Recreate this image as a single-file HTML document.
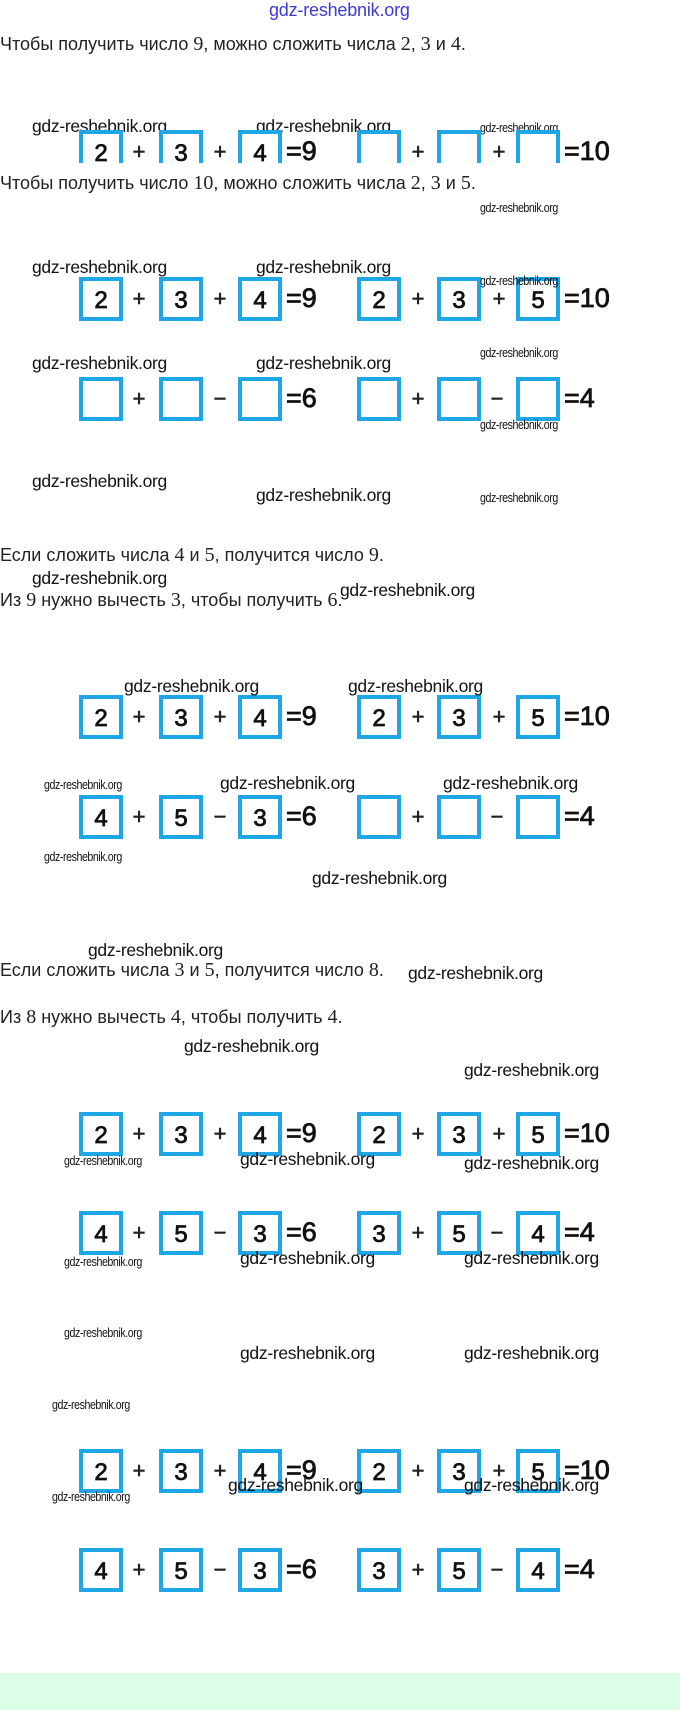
<!DOCTYPE html>
<html><head><meta charset="utf-8">
<style>
html,body{margin:0;padding:0;}
body{width:680px;height:1710px;position:relative;background:#fff;overflow:hidden;font-family:"Liberation Sans",sans-serif;}
.a{position:absolute;white-space:nowrap;}
.wm{position:absolute;white-space:nowrap;font-family:"Liberation Sans",sans-serif;font-size:17.5px;line-height:17px;color:#111;letter-spacing:-0.3px;}
.ws{position:absolute;white-space:nowrap;font-family:"Liberation Sans",sans-serif;font-size:12.5px;line-height:12px;color:#111;letter-spacing:-0.5px;transform:scaleX(0.85);transform-origin:left;}
.t{position:absolute;left:0;white-space:nowrap;font-family:"Liberation Sans",sans-serif;font-size:18px;line-height:20px;color:#222;letter-spacing:0;}
.t .n{font-family:"Liberation Serif",serif;font-size:20px;}
.row{position:absolute;left:0;width:680px;height:44px;}
.b{position:absolute;top:0;width:44px;height:44px;box-sizing:border-box;border:4.5px solid #1fa6e6;background:#fff;text-align:center;font-size:24px;line-height:40px;color:#111;-webkit-text-stroke:0.8px #111;}
.op{position:absolute;top:0;line-height:44px;font-size:22px;color:#222;width:20px;text-align:center;-webkit-text-stroke:0.6px #222;}
.eq{position:absolute;top:0;line-height:42px;font-size:27px;color:#111;-webkit-text-stroke:0.8px #111;letter-spacing:0;}
</style></head><body>

<div class="a" style="left:269px;top:1px;font-size:18px;line-height:19px;color:#3b3bd6;letter-spacing:-0.2px;">gdz-reshebnik.org</div>

<div class="t" style="top:34px;">Чтобы получить число <span class="n">9</span>, можно сложить числа <span class="n">2</span>, <span class="n">3</span> и <span class="n">4</span>.</div>

<div class="wm" style="left:32px;top:118px;">gdz-reshebnik.org</div>
<div class="wm" style="left:256px;top:118px;">gdz-reshebnik.org</div>
<div class="ws" style="left:480px;top:122px;">gdz-reshebnik.org</div>

<div style="position:absolute;left:0;top:0;width:680px;height:163px;overflow:hidden;">
<div class="row" style="top:130px;">
<div class="b" style="left:79px">2</div><div class="op" style="left:129px">+</div>
<div class="b" style="left:159px">3</div><div class="op" style="left:210px">+</div>
<div class="b" style="left:238px">4</div><div class="eq" style="left:286px">=9</div>
<div class="b" style="left:357px"></div><div class="op" style="left:408px">+</div>
<div class="b" style="left:437px"></div><div class="op" style="left:489px">+</div>
<div class="b" style="left:516px"></div><div class="eq" style="left:564px">=10</div>
</div></div>

<div class="t" style="top:173px;">Чтобы получить число <span class="n">10</span>, можно сложить числа <span class="n">2</span>, <span class="n">3</span> и <span class="n">5</span>.</div>
<div class="ws" style="left:480px;top:202px;">gdz-reshebnik.org</div>

<div class="wm" style="left:32px;top:259px;">gdz-reshebnik.org</div>
<div class="wm" style="left:256px;top:259px;">gdz-reshebnik.org</div>
<div class="row" style="top:277px;">
<div class="b" style="left:79px">2</div><div class="op" style="left:129px">+</div>
<div class="b" style="left:159px">3</div><div class="op" style="left:210px">+</div>
<div class="b" style="left:238px">4</div><div class="eq" style="left:286px">=9</div>
<div class="b" style="left:357px">2</div><div class="op" style="left:408px">+</div>
<div class="b" style="left:437px">3</div><div class="op" style="left:489px">+</div>
<div class="b" style="left:516px">5</div><div class="eq" style="left:564px">=10</div>
</div>
<div class="ws" style="left:480px;top:275px;">gdz-reshebnik.org</div>

<div class="wm" style="left:32px;top:355px;">gdz-reshebnik.org</div>
<div class="wm" style="left:256px;top:355px;">gdz-reshebnik.org</div>
<div class="ws" style="left:480px;top:347px;">gdz-reshebnik.org</div>
<div class="row" style="top:377px;">
<div class="b" style="left:79px"></div><div class="op" style="left:129px">+</div>
<div class="b" style="left:159px"></div><div class="op" style="left:210px">−</div>
<div class="b" style="left:238px"></div><div class="eq" style="left:286px">=6</div>
<div class="b" style="left:357px"></div><div class="op" style="left:408px">+</div>
<div class="b" style="left:437px"></div><div class="op" style="left:487px">−</div>
<div class="b" style="left:516px"></div><div class="eq" style="left:564px">=4</div>
</div>
<div class="ws" style="left:480px;top:419px;">gdz-reshebnik.org</div>

<div class="wm" style="left:32px;top:473px;">gdz-reshebnik.org</div>
<div class="wm" style="left:256px;top:487px;">gdz-reshebnik.org</div>
<div class="ws" style="left:480px;top:492px;">gdz-reshebnik.org</div>

<div class="t" style="top:545px;">Если сложить числа <span class="n">4</span> и <span class="n">5</span>, получится число <span class="n">9</span>.</div>
<div class="wm" style="left:32px;top:570px;">gdz-reshebnik.org</div>
<div class="t" style="top:590px;">Из <span class="n">9</span> нужно вычесть <span class="n">3</span>, чтобы получить <span class="n">6</span>.</div>
<div class="wm" style="left:340px;top:582px;">gdz-reshebnik.org</div>

<div class="row" style="top:695px;">
<div class="b" style="left:79px">2</div><div class="op" style="left:129px">+</div>
<div class="b" style="left:159px">3</div><div class="op" style="left:210px">+</div>
<div class="b" style="left:238px">4</div><div class="eq" style="left:286px">=9</div>
<div class="b" style="left:357px">2</div><div class="op" style="left:408px">+</div>
<div class="b" style="left:437px">3</div><div class="op" style="left:489px">+</div>
<div class="b" style="left:516px">5</div><div class="eq" style="left:564px">=10</div>
</div>
<div class="wm" style="left:124px;top:678px;">gdz-reshebnik.org</div>
<div class="wm" style="left:348px;top:678px;">gdz-reshebnik.org</div>

<div class="ws" style="left:44px;top:779px;">gdz-reshebnik.org</div>
<div class="row" style="top:795px;">
<div class="b" style="left:79px">4</div><div class="op" style="left:129px">+</div>
<div class="b" style="left:159px">5</div><div class="op" style="left:210px">−</div>
<div class="b" style="left:238px">3</div><div class="eq" style="left:286px">=6</div>
<div class="b" style="left:357px"></div><div class="op" style="left:408px">+</div>
<div class="b" style="left:437px"></div><div class="op" style="left:487px">−</div>
<div class="b" style="left:516px"></div><div class="eq" style="left:564px">=4</div>
</div>
<div class="wm" style="left:220px;top:775px;">gdz-reshebnik.org</div>
<div class="wm" style="left:443px;top:775px;">gdz-reshebnik.org</div>
<div class="ws" style="left:44px;top:851px;">gdz-reshebnik.org</div>
<div class="wm" style="left:312px;top:870px;">gdz-reshebnik.org</div>

<div class="wm" style="left:88px;top:942px;">gdz-reshebnik.org</div>
<div class="t" style="top:960px;">Если сложить числа <span class="n">3</span> и <span class="n">5</span>, получится число <span class="n">8</span>.</div>
<div class="wm" style="left:408px;top:965px;">gdz-reshebnik.org</div>
<div class="t" style="top:1007px;">Из <span class="n">8</span> нужно вычесть <span class="n">4</span>, чтобы получить <span class="n">4</span>.</div>
<div class="wm" style="left:184px;top:1038px;">gdz-reshebnik.org</div>
<div class="wm" style="left:464px;top:1062px;">gdz-reshebnik.org</div>

<div class="row" style="top:1112px;">
<div class="b" style="left:79px">2</div><div class="op" style="left:129px">+</div>
<div class="b" style="left:159px">3</div><div class="op" style="left:210px">+</div>
<div class="b" style="left:238px">4</div><div class="eq" style="left:286px">=9</div>
<div class="b" style="left:357px">2</div><div class="op" style="left:408px">+</div>
<div class="b" style="left:437px">3</div><div class="op" style="left:489px">+</div>
<div class="b" style="left:516px">5</div><div class="eq" style="left:564px">=10</div>
</div>
<div class="ws" style="left:64px;top:1155px;">gdz-reshebnik.org</div>
<div class="wm" style="left:240px;top:1151px;">gdz-reshebnik.org</div>
<div class="wm" style="left:464px;top:1155px;">gdz-reshebnik.org</div>

<div class="row" style="top:1211px;">
<div class="b" style="left:79px">4</div><div class="op" style="left:129px">+</div>
<div class="b" style="left:159px">5</div><div class="op" style="left:210px">−</div>
<div class="b" style="left:238px">3</div><div class="eq" style="left:286px">=6</div>
<div class="b" style="left:357px">3</div><div class="op" style="left:408px">+</div>
<div class="b" style="left:437px">5</div><div class="op" style="left:487px">−</div>
<div class="b" style="left:516px">4</div><div class="eq" style="left:564px">=4</div>
</div>
<div class="ws" style="left:64px;top:1256px;">gdz-reshebnik.org</div>
<div class="wm" style="left:240px;top:1250px;">gdz-reshebnik.org</div>
<div class="wm" style="left:464px;top:1250px;">gdz-reshebnik.org</div>

<div class="ws" style="left:64px;top:1327px;">gdz-reshebnik.org</div>
<div class="wm" style="left:240px;top:1345px;">gdz-reshebnik.org</div>
<div class="wm" style="left:464px;top:1345px;">gdz-reshebnik.org</div>

<div class="ws" style="left:52px;top:1399px;">gdz-reshebnik.org</div>
<div class="row" style="top:1449px;">
<div class="b" style="left:79px">2</div><div class="op" style="left:129px">+</div>
<div class="b" style="left:159px">3</div><div class="op" style="left:210px">+</div>
<div class="b" style="left:238px">4</div><div class="eq" style="left:286px">=9</div>
<div class="b" style="left:357px">2</div><div class="op" style="left:408px">+</div>
<div class="b" style="left:437px">3</div><div class="op" style="left:489px">+</div>
<div class="b" style="left:516px">5</div><div class="eq" style="left:564px">=10</div>
</div>
<div class="wm" style="left:228px;top:1477px;">gdz-reshebnik.org</div>
<div class="wm" style="left:464px;top:1477px;">gdz-reshebnik.org</div>
<div class="ws" style="left:52px;top:1491px;">gdz-reshebnik.org</div>

<div class="row" style="top:1548px;">
<div class="b" style="left:79px">4</div><div class="op" style="left:129px">+</div>
<div class="b" style="left:159px">5</div><div class="op" style="left:210px">−</div>
<div class="b" style="left:238px">3</div><div class="eq" style="left:286px">=6</div>
<div class="b" style="left:357px">3</div><div class="op" style="left:408px">+</div>
<div class="b" style="left:437px">5</div><div class="op" style="left:487px">−</div>
<div class="b" style="left:516px">4</div><div class="eq" style="left:564px">=4</div>
</div>

<div style="position:absolute;left:0;top:1673px;width:680px;height:37px;background:#dcfde8;"></div>
</body></html>
